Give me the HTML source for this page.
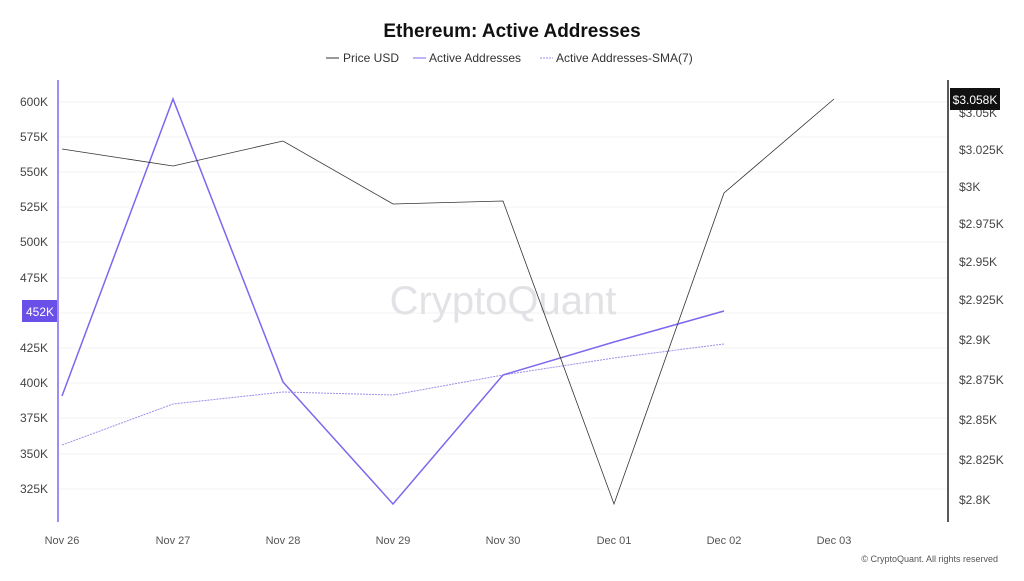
<!DOCTYPE html>
<html><head><meta charset="utf-8"><style>
body{margin:0;background:#fff;font-family:"Liberation Sans",sans-serif;}
</style></head><body>
<svg width="1024" height="576" viewBox="0 0 1024 576" xmlns="http://www.w3.org/2000/svg" font-family="Liberation Sans, sans-serif">
<rect width="1024" height="576" fill="#fff"/>
<text x="512" y="37" text-anchor="middle" font-size="19" font-weight="bold" fill="#111">Ethereum: Active Addresses</text>
<g font-size="12" fill="#333">
<line x1="326" y1="58" x2="339" y2="58" stroke="#333"/><text x="343" y="62">Price USD</text>
<line x1="413" y1="58" x2="426" y2="58" stroke="#7b68ee"/><text x="429" y="62">Active Addresses</text>
<line x1="540" y1="58" x2="553" y2="58" stroke="#9c8fe8" stroke-dasharray="2,1"/><text x="556" y="62">Active Addresses-SMA(7)</text>
</g>
<g stroke="#f3f3f3">
<line x1="58" y1="102" x2="948" y2="102"/><line x1="58" y1="137" x2="948" y2="137"/><line x1="58" y1="172" x2="948" y2="172"/><line x1="58" y1="207" x2="948" y2="207"/><line x1="58" y1="242" x2="948" y2="242"/><line x1="58" y1="278" x2="948" y2="278"/><line x1="58" y1="313" x2="948" y2="313"/><line x1="58" y1="348" x2="948" y2="348"/><line x1="58" y1="383" x2="948" y2="383"/><line x1="58" y1="418" x2="948" y2="418"/><line x1="58" y1="454" x2="948" y2="454"/><line x1="58" y1="489" x2="948" y2="489"/>
</g>
<line x1="58" y1="80" x2="58" y2="522" stroke="#7b68ee" stroke-width="1.5"/>
<line x1="948" y1="80" x2="948" y2="522" stroke="#222" stroke-width="1.5"/>
<g font-size="12" fill="#444" text-anchor="end">
<text x="48" y="106">600K</text><text x="48" y="141">575K</text><text x="48" y="176">550K</text><text x="48" y="211">525K</text><text x="48" y="246">500K</text><text x="48" y="282">475K</text><text x="48" y="352">425K</text><text x="48" y="387">400K</text><text x="48" y="422">375K</text><text x="48" y="458">350K</text><text x="48" y="493">325K</text>
</g>
<rect x="22" y="300" width="35" height="22" fill="#6a4fe8"/><text x="40" y="316" font-size="12" fill="#fff" text-anchor="middle">452K</text>
<g font-size="12" fill="#444">
<text x="959" y="117">$3.05K</text><text x="959" y="154">$3.025K</text><text x="959" y="191">$3K</text><text x="959" y="228">$2.975K</text><text x="959" y="266">$2.95K</text><text x="959" y="304">$2.925K</text><text x="959" y="344">$2.9K</text><text x="959" y="384">$2.875K</text><text x="959" y="424">$2.85K</text><text x="959" y="464">$2.825K</text><text x="959" y="504">$2.8K</text>
</g>
<rect x="950" y="88" width="50" height="22" fill="#111"/><text x="975" y="104" font-size="12" fill="#fff" text-anchor="middle">$3.058K</text>
<text x="503" y="314" font-size="40" fill="#e2e2e6" text-anchor="middle">CryptoQuant</text>
<polyline fill="none" stroke="#9c8fe8" stroke-width="1" stroke-dasharray="2,1" points="62,445 173,404 283,392 393,395 503,375 614,358 724,344"/>
<polyline fill="none" stroke="#7b68ee" stroke-width="1.5" points="62,396 173,99 283,382 393,504 503,375 614,342 724,311"/>
<polyline fill="none" stroke="#333" stroke-width="0.8" points="62,149 173,166 283,141 393,204 503,201 614,504 724,193 834,99"/>
<g font-size="11" fill="#555" text-anchor="middle">
<text x="62" y="544">Nov 26</text><text x="173" y="544">Nov 27</text><text x="283" y="544">Nov 28</text><text x="393" y="544">Nov 29</text><text x="503" y="544">Nov 30</text><text x="614" y="544">Dec 01</text><text x="724" y="544">Dec 02</text><text x="834" y="544">Dec 03</text>
</g>
<text x="998" y="562" font-size="9" fill="#555" text-anchor="end">© CryptoQuant. All rights reserved</text>
</svg>
</body></html>
